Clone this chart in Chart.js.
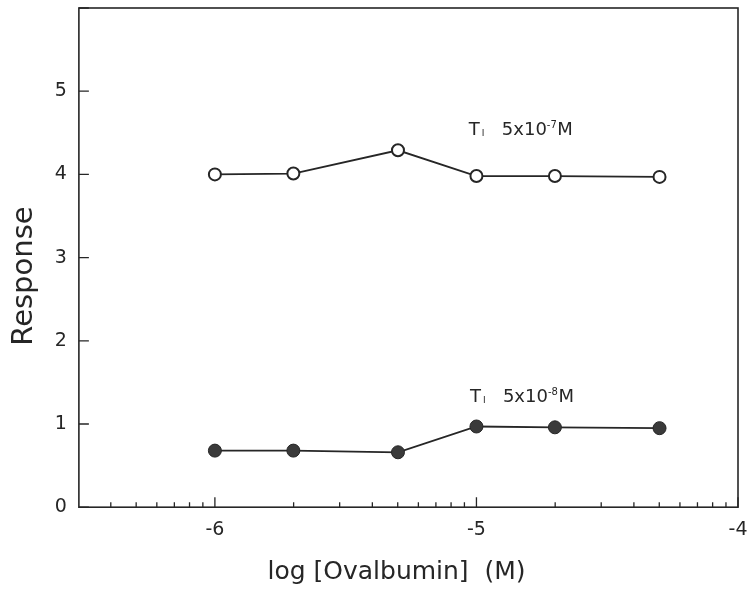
<!DOCTYPE html>
<html>
<head>
<meta charset="utf-8">
<script src="https://cdn.jsdelivr.net/npm/chart.js@4.4.0/dist/chart.umd.min.js"></script>
<style>
    html, body { margin: 0; padding: 0; background: #fff; }
    #wrap { width: 751px; height: 594px; }
</style>
</head>
<body>
<div id="wrap"><canvas id="chart"></canvas></div>
<script>
// Data
const xValues = [-6, -5.7, -5.3, -5, -4.7, -4.3];
const openValues = [4.0, 4.01, 4.29, 3.98, 3.98, 3.97];
const filledValues = [0.68, 0.68, 0.66, 0.97, 0.96, 0.95];
const xTickValues = [-6, -5, -4];
const yTickValues = [0, 1, 2, 3, 4, 5, 6];
// minor (log-decade) tick positions on the x axis
const xMinorTicks = [-6.398, -6.301, -6.222, -6.155, -6.097, -6.046,
    -5.699, -5.523, -5.398, -5.301, -5.222, -5.155, -5.097, -5.046,
    -4.699, -4.523, -4.398, -4.301, -4.222, -4.155, -4.097, -4.046];
// series labels: [x, y of baseline, exponent]
const labelPos = [[-5.029, 4.47, '-7'], [-5.025, 1.26, '-8']];

const ink = '#262626';
const fontFamily = '"DejaVu Sans", "Liberation Sans", Arial, sans-serif';

const framePlugin = {
    id: 'frame',
    afterDraw(chart) {
        const { ctx, chartArea: a, scales: { x, y } } = chart;
        ctx.save();
        ctx.strokeStyle = ink;
        ctx.lineWidth = 1.6;
        ctx.strokeRect(a.left, a.top, a.right - a.left, a.bottom - a.top);

        // inward ticks
        ctx.lineWidth = 1.3;
        ctx.beginPath();
        yTickValues.forEach(v => {
            const py = y.getPixelForValue(v);
            ctx.moveTo(a.left, py);
            ctx.lineTo(a.left + 10, py);
        });
        xTickValues.forEach(v => {
            const px = x.getPixelForValue(v);
            ctx.moveTo(px, a.bottom);
            ctx.lineTo(px, a.bottom - 10);
        });
        xMinorTicks.forEach(v => {
            const px = x.getPixelForValue(v);
            ctx.moveTo(px, a.bottom);
            ctx.lineTo(px, a.bottom - 5);
        });
        ctx.stroke();

        // series labels
        ctx.fillStyle = ink;
        ctx.textBaseline = 'alphabetic';
        labelPos.forEach(([lx, ly, exp]) => {
            let px = x.getPixelForValue(lx);
            const py = y.getPixelForValue(ly);
            ctx.font = '18px ' + fontFamily;
            ctx.fillText('T', px, py);
            px += ctx.measureText('T').width + 2;
            ctx.font = '9px ' + fontFamily;
            ctx.fillText('I', px, py + 1);
            px = x.getPixelForValue(lx) + 33;
            ctx.font = '18px ' + fontFamily;
            ctx.fillText('5x10', px, py);
            px += ctx.measureText('5x10').width;
            ctx.font = '10px ' + fontFamily;
            ctx.fillText(exp, px, py - 7);
            px += ctx.measureText(exp).width + 0.5;
            ctx.font = '18px ' + fontFamily;
            ctx.fillText('M', px, py);
        });
        ctx.restore();
    }
};

new Chart(document.getElementById('chart'), {
    type: 'line',
    data: {
        datasets: [{
            label: 'T1 5x10-7M',
            data: xValues.map((v, i) => ({ x: v, y: openValues[i] })),
            borderColor: ink,
            borderWidth: 1.8,
            pointRadius: 6,
            pointBorderWidth: 2,
            pointBackgroundColor: '#fff',
            pointBorderColor: ink,
            tension: 0
        }, {
            label: 'T1 5x10-8M',
            data: xValues.map((v, i) => ({ x: v, y: filledValues[i] })),
            borderColor: ink,
            borderWidth: 1.8,
            pointRadius: 6.5,
            pointBorderWidth: 1,
            pointBackgroundColor: '#3a3a3a',
            pointBorderColor: ink,
            tension: 0
        }]
    },
    options: {
        responsive: true,
        maintainAspectRatio: false,
        animation: false,
        layout: { padding: { top: 8, right: 13, left: 0, bottom: 0 } },
        plugins: {
            legend: { display: false },
            tooltip: { enabled: false }
        },
        scales: {
            x: {
                type: 'linear',
                min: -6.52,
                max: -4,
                afterBuildTicks: scale => {
                    scale.ticks = xTickValues.map(v => ({ value: v }));
                },
                afterFit: scale => {
                    scale.paddingLeft = 0;
                    scale.paddingRight = 0;
                },
                grid: { display: false, drawTicks: false },
                border: { display: false },
                ticks: {
                    color: ink,
                    padding: 11,
                    maxRotation: 0,
                    font: { family: fontFamily, size: 19 },
                    callback: v => String(v)
                },
                title: {
                    display: true,
                    text: 'log [Ovalbumin]  (M)   ',
                    color: ink,
                    padding: { top: 5, bottom: 7 },
                    font: { family: fontFamily, size: 25 }
                }
            },
            y: {
                min: 0,
                max: 6,
                afterBuildTicks: scale => {
                    scale.ticks = yTickValues.map(v => ({ value: v }));
                },
                afterFit: scale => {
                    scale.paddingTop = 0;
                    scale.paddingBottom = 0;
                },
                grid: { display: false, drawTicks: false },
                border: { display: false },
                ticks: {
                    color: ink,
                    padding: 12,
                    font: { family: fontFamily, size: 19 },
                    callback: v => (v === 6 ? null : String(v))
                },
                title: {
                    display: true,
                    text: 'Response    ',
                    color: ink,
                    padding: { top: 7, bottom: 1 },
                    font: { family: fontFamily, size: 29 }
                }
            }
        }
    },
    plugins: [framePlugin]
});
</script>
</body>
</html>
